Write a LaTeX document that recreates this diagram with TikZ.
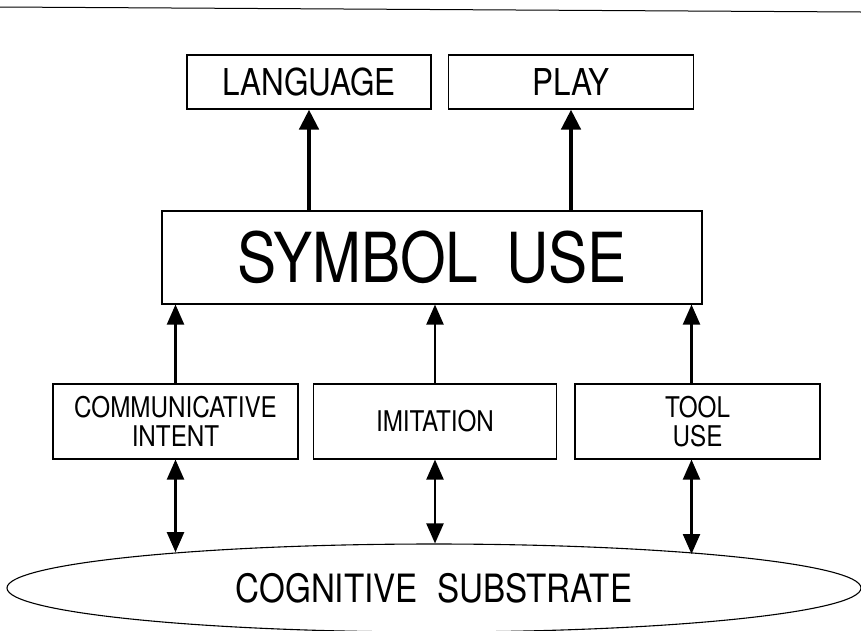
\documentclass[tikz,border=0pt]{standalone}
\usepackage{fontspec}
\setmainfont{TeX Gyre Heros}[FakeStretch=0.85]
\usetikzlibrary{arrows.meta,shapes.geometric}

\begin{document}
\begin{tikzpicture}[x=1pt,y=-1pt,
  box/.style={draw,line width=1.1pt,inner sep=0pt,align=center},
  toparrow/.style={line width=4.5pt,-{Triangle[length=20pt,width=19pt]}},
  uparrow/.style={line width=2.2pt,-{Triangle[length=20pt,width=17pt]}},
  bothway/.style={line width=2.2pt,{Triangle[length=20pt,width=17pt]}-{Triangle[length=20pt,width=17pt]}}]

\useasboundingbox (0,0) rectangle (861,630);

% rule at the top
\draw[line width=1pt] (0,7) -- (861,12);

\node[box,minimum width=244pt,minimum height=54pt,font=\fontsize{37}{40}\selectfont] (lang) at (309,82) {LANGUAGE};
\node[box,minimum width=245pt,minimum height=54pt,font=\fontsize{37}{40}\selectfont] (play) at (571,82) {PLAY};

\node[box,minimum width=540pt,minimum height=93pt,font=\fontsize{69}{74}\selectfont] (sym) at (432,257.5) {SYMBOL\hspace{0.4em}USE};

\node[box,minimum width=245pt,minimum height=75pt,font=\fontsize{28.5}{29}\selectfont] (comm) at (175.5,421.5) {COMMUNICATIVE\\INTENT};
\node[box,minimum width=243pt,minimum height=75pt,font=\fontsize{28.5}{29}\selectfont] (imit) at (435,421.5) {IMITATION};
\node[box,minimum width=245pt,minimum height=75pt,font=\fontsize{28.5}{29}\selectfont] (tool) at (697.5,421.5) {TOOL\\USE};

\node[draw,ellipse,line width=1.1pt,inner sep=0pt,minimum width=854pt,minimum height=88pt,font=\fontsize{39}{42}\selectfont] (cog) at (434,588) {COGNITIVE\hspace{0.5em}SUBSTRATE};

% arrows
\draw[toparrow] (sym.north -| lang) -- (lang.south);
\draw[toparrow] (sym.north -| play) -- (play.south);

\draw[uparrow] (comm.north) -- (comm.north |- sym.south);
\draw[uparrow] (imit.north) -- (imit.north |- sym.south);
\draw[uparrow] ([xshift=-6pt]tool.north) -- ([xshift=-6pt]tool.north |- sym.south);

\draw[bothway] (comm.south) -- (comm.south |- cog.172.3);
\draw[bothway] (imit.south) -- (imit.south |- cog.north);
\draw[bothway] ([xshift=-6pt]tool.south) -- ([xshift=-6pt]tool.south |- cog.7.5);

\end{tikzpicture}
\end{document}
